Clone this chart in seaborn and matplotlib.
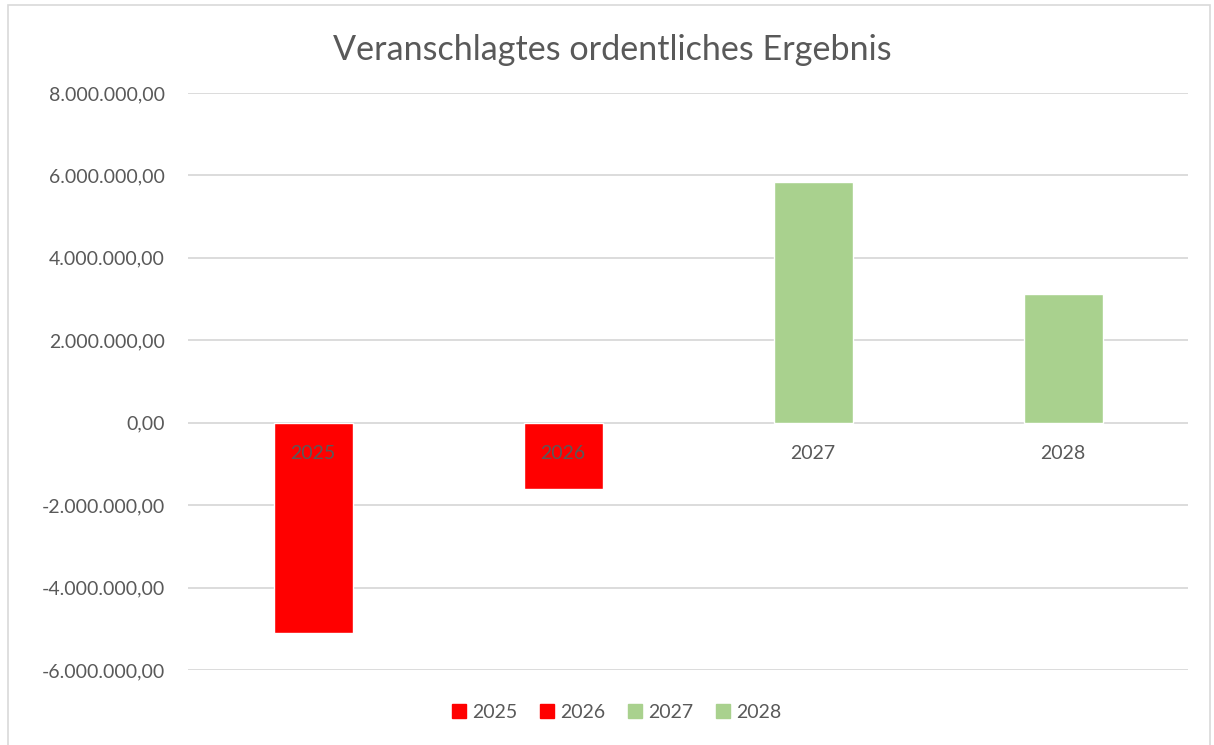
import matplotlib
matplotlib.use("Agg")
import matplotlib.pyplot as plt
import matplotlib.ticker as mticker
from matplotlib.patches import Rectangle
import pandas as pd
import seaborn as sns

years = ["2025", "2026", "2027", "2028"]
ergebnis = [-5_100_000, -1_610_000, 5_830_000, 3_120_000]
colors = ["#FF0000", "#FF0000", "#A9D18E", "#A9D18E"]
y_ticks = [-6_000_000, -4_000_000, -2_000_000, 0, 2_000_000, 4_000_000, 6_000_000, 8_000_000]
title = "Veranschlagtes ordentliches Ergebnis"

TEXT = "#595959"
GRID = "#D9D9D9"

sns.set_theme(style="white")
plt.rcParams["font.family"] = ["Lato", "DejaVu Sans"]

df = pd.DataFrame({"jahr": years, "wert": ergebnis})


def de_format(v, pos=None):
    s = f"{v:,.2f}"
    return s.replace(",", "X").replace(".", ",").replace("X", ".")


fig = plt.figure(figsize=(12.14, 7.45), dpi=100)
ax = fig.add_axes([0.155, 0.1007, 0.8236, 0.7745])

sns.barplot(data=df, x="jahr", y="wert", hue="jahr", palette=colors,
            width=0.316, saturation=1, legend=False, ax=ax)

ax.set_ylim(-6_000_000, 8_000_000)
ax.set_xlim(-0.5, 3.5)
ax.set_yticks(y_ticks)
ax.yaxis.set_major_formatter(mticker.FuncFormatter(de_format))
ax.grid(axis="y", color=GRID, linewidth=1.3)
ax.set_axisbelow(True)
# category labels sit on the zero line and are drawn over the bars
ax.xaxis.set_zorder(5)
for s in ax.spines.values():
    s.set_visible(False)
ax.spines["bottom"].set_position(("data", 0))
ax.tick_params(axis="y", length=0, pad=17, labelsize=14, labelcolor=TEXT)
ax.tick_params(axis="x", length=0, pad=16, labelsize=14, labelcolor=TEXT)
ax.set_xlabel("")
ax.set_ylabel("")

handles = [Rectangle((0, 0), 1, 1, color=c) for c in colors]
fig.legend(handles, years, loc="center", bbox_to_anchor=(0.508, 1 - 712 / 745),
           ncol=4, frameon=False, fontsize=14, labelcolor=TEXT,
           handlelength=0.7, handleheight=0.7, handletextpad=0.3, columnspacing=1.2)

fig.text(0.504, 1 - 50 / 745, title, ha="center", va="center", fontsize=24.6, color=TEXT)

fig.patches.append(Rectangle((8 / 1214, -0.01), 1 - 12 / 1214, 1 - 5 / 745 + 0.01,
                             transform=fig.transFigure, fill=False,
                             edgecolor=GRID, linewidth=1.2))

fig.savefig("out.png", dpi=100)
